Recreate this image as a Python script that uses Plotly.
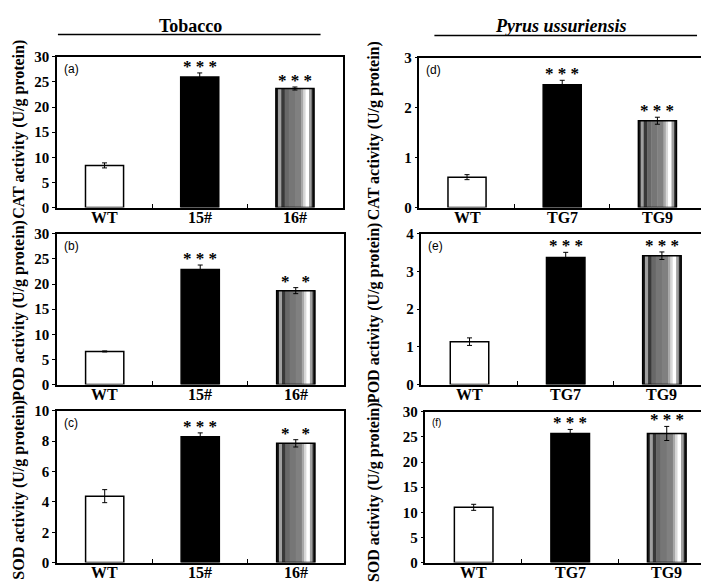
import plotly.graph_objects as go

W, H = 709, 584

# ---------------- data ----------------
tob_cats = ["WT", "15#", "16#"]
pyr_cats = ["WT", "TG7", "TG9"]

cat_tob = [8.4, 26.0, 23.7]
cat_tob_err = [0.5, 0.8, 0.3]
pod_tob = [6.6, 22.9, 18.7]
pod_tob_err = [0.1, 0.9, 0.6]
sod_tob = [4.38, 8.29, 7.86]
sod_tob_err = [0.43, 0.26, 0.24]

cat_pyr = [0.61, 2.46, 1.74]
cat_pyr_err = [0.05, 0.09, 0.07]
pod_pyr = [1.14, 3.37, 3.42]
pod_pyr_err = [0.10, 0.14, 0.10]
sod_pyr = [11.0, 25.7, 25.7]
sod_pyr_err = [0.6, 0.8, 1.4]

sig_cat_tob = ["", "* * *", "* * *"]
sig_pod_tob = ["", "* * *", "*\u00a0\u00a0\u2009*"]
sig_sod_tob = ["", "* * *", "*\u00a0\u00a0\u2009*"]
sig_cat_pyr = ["", "* * *", "* * *"]
sig_pod_pyr = ["", "* * *", "* * *"]
sig_sod_pyr = ["", "* * *", "* * *"]

y_titles = ["CAT activity (U/g protein)", "POD activity (U/g protein)", "SOD activity (U/g protein)"]
panel_letters = ["(a)", "(b)", "(c)", "(d)", "(e)", "(f)"]
col_titles = ["Tobacco", "<i>Pyrus ussuriensis</i>"]

# ---------------- layout / style ----------------
SERIF = "Liberation Serif, Times New Roman, serif"
SANS = "Liberation Sans, Arial, sans-serif"
BARW = 0.4

# (cats, values, errors, sig, ymax, dtick, px-box [x0,x1,ytop,ybot], title idx, title center y px, title x px)
panels = [
    (tob_cats, cat_tob, cat_tob_err, sig_cat_tob, 30, 5, (49, 335, 42, 197), 0, 116, 11),
    (tob_cats, pod_tob, pod_tob_err, sig_pod_tob, 30, 5, (49, 336, 224, 379), 1, 302, 11),
    (tob_cats, sod_tob, sod_tob_err, sig_sod_tob, 10, 2, (49, 336, 406, 562), 2, 487, 11),
    (pyr_cats, cat_pyr, cat_pyr_err, sig_cat_pyr, 3, 1, (412, 698, 43, 197), 0, 118, 366),
    (pyr_cats, pod_pyr, pod_pyr_err, sig_pod_pyr, 4, 1, (414, 703, 224, 379), 1, 305, 366),
    (pyr_cats, sod_pyr, sod_pyr_err, sig_sod_pyr, 30, 5, (418, 708, 407, 562), 2, 489, 366),
]

# cylinder-like stripes for the third bar (fractions across bar width)
stripes = [
    (0.00, 0.06, "#1a1a1a"),
    (0.06, 0.14, "#a0a0a0"),
    (0.14, 0.23, "#383838"),
    (0.23, 0.34, "#686868"),
    (0.34, 0.50, "#767676"),
    (0.50, 0.66, "#808080"),
    (0.66, 0.72, "#a8a8a8"),
    (0.72, 0.78, "#d8d8d8"),
    (0.78, 0.87, "#ffffff"),
    (0.87, 0.94, "#a0a0a0"),
    (0.94, 1.00, "#262626"),
]

fig = go.Figure()
annotations = []
layout_axes = {}

for k, (cats, vals, errs, sig, ymax, dt, box, ti, tyc, txc) in enumerate(panels, start=1):
    xa = "x" if k == 1 else f"x{k}"
    ya = "y" if k == 1 else f"y{k}"
    x0, x1, yt, yb = box
    # stripes for third bar
    for (s, e, c) in stripes:
        fig.add_trace(go.Bar(
            x=[cats[2]], y=[vals[2]],
            width=[(e - s) * BARW + 0.004], offset=[-BARW / 2 + s * BARW],
            marker=dict(color=c, line=dict(width=0)),
            xaxis=xa, yaxis=ya, showlegend=False, hoverinfo="skip",
        ))
    fig.add_trace(go.Bar(
        x=cats, y=vals, width=BARW,
        marker=dict(color=["white", "black", "rgba(0,0,0,0)"],
                    line=dict(color="black", width=1.5)),
        error_y=dict(type="data", array=errs, color="black", thickness=1, width=2.5),
        xaxis=xa, yaxis=ya, showlegend=False,
    ))
    # significance
    for c, v, e, s in zip(cats, vals, errs, sig):
        if s:
            annotations.append(dict(
                x=c, y=v + e, xref=xa, yref=ya, text=s, showarrow=False,
                yanchor="bottom", yshift=-5,
                font=dict(family=SERIF, size=17, color="#000000", weight="bold"),
            ))
    # category labels under the axis
    for c in cats:
        annotations.append(dict(
            x=c, y=0, xref=xa, yref=f"{ya} domain", text=c, showarrow=False,
            yanchor="top", yshift=1,
            font=dict(family=SERIF, size=16, color="black", weight="bold"),
        ))
    # panel letter
    annotations.append(dict(
        x=0, y=1, xref=f"{xa} domain", yref=f"{ya} domain", text=panel_letters[k - 1],
        showarrow=False, xanchor="left", yanchor="top", xshift=5, yshift=-3,
        font=dict(family=SANS, size=12 if k != 6 else 10, color="black"),
    ))
    # y title
    annotations.append(dict(
        x=txc / W, y=1 - tyc / H, xref="paper", yref="paper", text=y_titles[ti],
        textangle=-90, showarrow=False, xanchor="center", yanchor="middle",
        font=dict(family=SERIF, size=16, color="black", weight="bold"),
    ))
    xkey = "xaxis" if k == 1 else f"xaxis{k}"
    ykey = "yaxis" if k == 1 else f"yaxis{k}"
    layout_axes[xkey] = dict(
        domain=[x0 / W, x1 / W], anchor=ya, type="category",
        categoryorder="array", categoryarray=cats, range=[-0.5, 2.5],
        showline=True, linecolor="black", linewidth=1.5, mirror=True,
        ticks="inside", tickson="boundaries", ticklen=4, tickcolor="black", tickwidth=1,
        showgrid=False, zeroline=False, showticklabels=False,
    )
    layout_axes[ykey] = dict(
        domain=[1 - yb / H, 1 - yt / H], anchor=xa, range=[0, ymax], dtick=dt, tick0=0,
        showline=True, linecolor="black", linewidth=1.5, mirror=True,
        ticks="outside", ticklen=3, tickcolor="black", tickwidth=1,
        showgrid=False, zeroline=False,
        tickfont=dict(family=SERIF, size=15, color="black", weight="bold"),
    )

# column headers
annotations.append(dict(x=183 / W, y=1 - 10 / H, xref="paper", yref="paper", text=col_titles[0],
                        showarrow=False, xanchor="center", yanchor="middle",
                        font=dict(family=SERIF, size=18, color="black", weight="bold")))
annotations.append(dict(x=554 / W, y=1 - 10 / H, xref="paper", yref="paper", text=col_titles[1],
                        showarrow=False, xanchor="center", yanchor="middle",
                        font=dict(family=SERIF, size=18, color="black", weight="bold")))

shapes = [
    dict(type="line", xref="paper", yref="paper", x0=50 / W, x1=313 / W, y0=1 - 19 / H, y1=1 - 19 / H,
         line=dict(color="black", width=1.5)),
    dict(type="line", xref="paper", yref="paper", x0=427 / W, x1=690 / W, y0=1 - 20 / H, y1=1 - 20 / H,
         line=dict(color="black", width=1.5)),
]

fig.update_layout(
    width=W, height=H, autosize=False,
    margin=dict(l=0, r=0, t=0, b=0),
    paper_bgcolor="white", plot_bgcolor="white",
    barmode="overlay", showlegend=False,
    annotations=annotations, shapes=shapes,
    **layout_axes,
)

fig.write_html("out.html")
